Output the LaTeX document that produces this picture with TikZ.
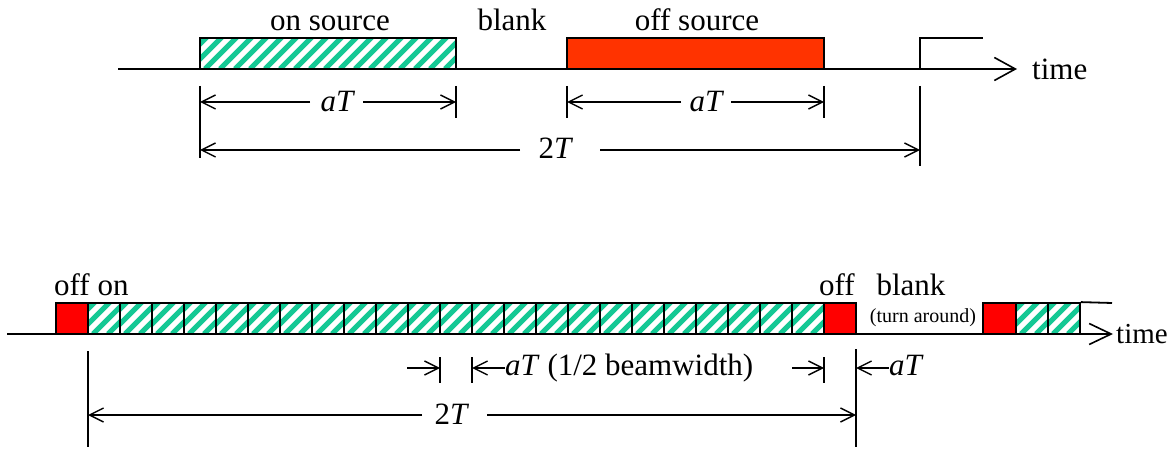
\documentclass[tikz,border=0pt]{standalone}
\usepackage{fontspec}
\setmainfont{Liberation Serif}
\usetikzlibrary{arrows.meta}

\definecolor{stripe}{HTML}{14C894}
\definecolor{offtop}{HTML}{FF3300}
\definecolor{offcell}{HTML}{FF0000}

\tikzset{
  axis/.style={line width=1.8pt, -{Straight Barb[length=21pt,width=23pt,line width=1.6pt]}},
  edge/.style={line width=1.8pt},
  dim/.style={line width=1.4pt},
  dimarrow/.style={line width=1.4pt, -{Straight Barb[length=14pt,width=14pt,line width=1.4pt]}},
  tick/.style={line width=1.4pt},
  hatched/.style={draw=black, line width=1.8pt, inner sep=0pt,
    path picture={
      \foreach \s in {-40,-25,...,280}
        \draw[stripe, line width=5pt]
          ([xshift=\s pt]path picture bounding box.south west) -- ++(45pt,45pt);
    }},
  offbox/.style={draw=black, line width=1.8pt, fill=offtop, inner sep=0pt},
  offcellbox/.style={draw=black, line width=1.8pt, fill=offcell, inner sep=0pt},
  lbl/.style={font=\fontsize{31}{31}\selectfont, inner sep=0pt, anchor=base},
  small/.style={font=\fontsize{20}{20}\selectfont, inner sep=0pt, anchor=base},
}

\begin{document}
\begin{tikzpicture}[x=1pt, y=-1pt]
\useasboundingbox (0,0) rectangle (1176,449);

% ---------- upper timeline: one on/off cycle ----------
\coordinate (axA) at (118,69);
\coordinate (axB) at (1017,69);
\draw[axis] (axA) -- (axB);

\node[hatched, minimum width=256pt, minimum height=31pt] (on) at (328,53.5) {};
\node[offbox, minimum width=257pt, minimum height=31pt] (off) at (695.5,53.5) {};

% next cycle starts
\coordinate (s0) at (920,69);
\coordinate (s1) at (920,38);
\coordinate (s2) at (983,38);
\draw[edge] (s0) -- (s1) -- (s2);

\node[lbl] (lon) at (330,31) {on source};
\node[lbl] (lblank) at (512,31) {blank};
\node[lbl] (loff) at (697,31) {off source};
\node[lbl, anchor=base west] (ltime) at (1032,80) {time};

% extension lines
\draw[tick] (200,86) coordinate (e1a) -- (200,158) coordinate (e1b);
\draw[tick] (456,86) coordinate (e2a) -- (456,118) coordinate (e2b);
\draw[tick] (567,86) coordinate (e3a) -- (567,118) coordinate (e3b);
\draw[tick] (824,86) coordinate (e4a) -- (824,118) coordinate (e4b);
\draw[tick] (920,86) coordinate (e5a) -- (920,166) coordinate (e5b);

% aT dimensions
\node[lbl, font=\fontsize{31}{31}\selectfont\itshape] (aT1) at (337,112) {aT};
\node[lbl, font=\fontsize{31}{31}\selectfont\itshape] (aT2) at (706,112) {aT};
\draw[dimarrow] (310,102) coordinate (d1) -- (200,102) coordinate (d1e);
\draw[dimarrow] (363,102) coordinate (d2) -- (456,102) coordinate (d2e);
\draw[dimarrow] (681,102) coordinate (d3) -- (567,102) coordinate (d3e);
\draw[dimarrow] (731,102) coordinate (d4) -- (824,102) coordinate (d4e);

% 2T dimension
\node[lbl] (twoT) at (556,159) {2\textit{T}};
\draw[dimarrow] (520,150) coordinate (t1) -- (200,150) coordinate (t1e);
\draw[dimarrow] (600,150) coordinate (t2) -- (920,150) coordinate (t2e);

% ---------- lower timeline: on-the-fly mapping ----------
\coordinate (bxA) at (7,334);
\coordinate (bxB) at (1113,334);
\draw[axis, -{Straight Barb[length=22pt,width=21pt,line width=1.6pt]}] (bxA) -- (bxB);

\node[offcellbox, minimum width=32pt, minimum height=31pt] (o1) at (72,318.5) {};
\foreach \k in {1,...,23}{
  \node[hatched, minimum width=32pt, minimum height=31pt] (c\k) at ({88+32*(\k-1)+16},318.5) {};
}
\node[offcellbox, minimum width=32pt, minimum height=31pt] (o2) at (840,318.5) {};

\node[offcellbox, minimum width=33pt, minimum height=31pt] (o3) at (999.5,318.5) {};
\node[hatched, minimum width=32pt, minimum height=31pt] (r1) at (1032,318.5) {};
\node[hatched, minimum width=32pt, minimum height=31pt] (r2) at (1064,318.5) {};
\coordinate (rend) at (1112,303);
\draw[edge] (r2.north east) -- (rend);

\node[lbl, anchor=base west] (loffon) at (54,295) {off on};
\node[lbl] (loff2) at (837,295) {off};
\node[lbl] (lblank2) at (911,295) {blank};
\node[small] (lturn) at (923,322) {(turn around)};
\node[lbl, anchor=base west, font=\fontsize{29}{29}\selectfont] (ltime2) at (1116,343) {time};

% extension lines
\draw[tick] (88,351) coordinate (f1a) -- (88,447) coordinate (f1b);
\draw[tick] (440,357) coordinate (f2a) -- (440,383) coordinate (f2b);
\draw[tick] (472,357) coordinate (f3a) -- (472,383) coordinate (f3b);
\draw[tick] (824,357) coordinate (f4a) -- (824,383) coordinate (f4b);
\draw[tick] (856,349) coordinate (f5a) -- (856,447) coordinate (f5b);

% aT dimensions
\node[lbl, anchor=base west] (beam) at (505,375) {\textit{aT} (1/2 beamwidth)};
\node[lbl, anchor=base west] (aT3) at (889,375) {\textit{aT}};
\draw[dimarrow] (407,368) coordinate (g1) -- (440,368) coordinate (g1e);
\draw[dimarrow] (beam.west |- 0,368) -- (472,368) coordinate (g2e);
\draw[dimarrow] (792,368) coordinate (g3) -- (824,368) coordinate (g3e);
\draw[dimarrow] (aT3.west |- 0,368) -- (856,368) coordinate (g4e);

% 2T dimension
\node[lbl] (twoT2) at (452,424) {2\textit{T}};
\draw[dimarrow] (422,415) coordinate (h1) -- (88,415) coordinate (h1e);
\draw[dimarrow] (487,415) coordinate (h2) -- (856,415) coordinate (h2e);
\end{tikzpicture}
\end{document}
